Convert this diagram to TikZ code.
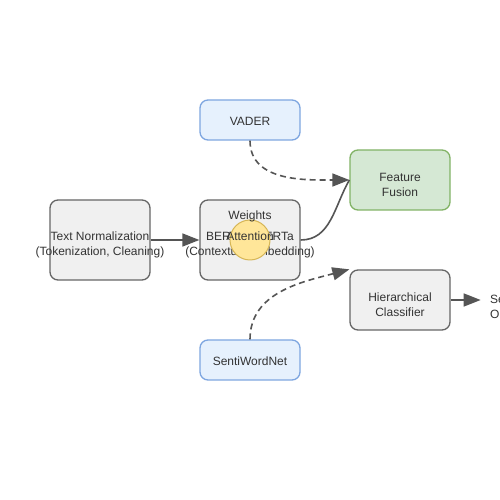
\documentclass[tikz,border=0pt]{standalone}
\usepackage{fontspec}
\setmainfont{Liberation Sans}
\usetikzlibrary{arrows.meta,positioning}

\definecolor{txt}{HTML}{333333}
\definecolor{edgecol}{HTML}{555555}
\definecolor{procfill}{HTML}{F0F0F0}
\definecolor{procline}{HTML}{666666}
\definecolor{lexfill}{HTML}{E6F1FD}
\definecolor{lexline}{HTML}{7EA6E0}
\definecolor{fusefill}{HTML}{D5E8D4}
\definecolor{fuseline}{HTML}{82B366}
\definecolor{attnfill}{HTML}{FFE699}
\definecolor{attnline}{HTML}{D6B656}

\begin{document}
\begin{tikzpicture}[x=1pt,y=1pt,on grid,>={Triangle[length=17pt,width=13pt]}]
	\tikzstyle{every node}=[font=\fontsize{12}{15}\selectfont,text=txt]
	\tikzstyle{procbox}=[draw=procline,fill=procfill,line width=1.3pt,rounded corners=8pt,minimum width=100pt,minimum height=80pt]
	\tikzstyle{lexbox}=[draw=lexline,fill=lexfill,line width=1.3pt,rounded corners=8pt,minimum width=100pt,minimum height=40pt,text height=13pt,text depth=1pt]
	\tikzstyle{fusebox}=[draw=fuseline,fill=fusefill,line width=1.3pt,rounded corners=8pt,minimum width=100pt,minimum height=60pt]
	\tikzstyle{boxtext}=[align=center,yshift=-5pt]
	\tikzstyle{lexlink}=[dash pattern=on 6pt off 4pt]

	\useasboundingbox (0,0) rectangle (500,500);
	\clip (0,0) rectangle (500,500);
	\fill[white] (0,0) rectangle (500,500);

	\node[procbox] (tnorm) at (100,260) {};
	\node[boxtext] (tnorm-text) at (tnorm) {Text Normalization\\(Tokenization, Cleaning)};
	\node[procbox] (berta) [right=150pt of tnorm] {};
	\node[boxtext] (berta-text) at (berta) {BERT/RoBERTa\\(Contextual Embedding)};
	\node[circle,draw=attnline,fill=attnfill,line width=1pt,minimum size=40pt,inner sep=0pt] (attn) at (berta) {};
	\node (attn-text) [above=4pt of berta] {Attention};
	\node (weights) [above=24pt of berta] {Weights};

	\node[lexbox] (vader) [above=120pt of berta] {VADER};
	\node[lexbox] (senti) [below=120pt of berta] {SentiWordNet};
	\node[fusebox] (fusion) at (400,320) {};
	\node[boxtext] (fusion-text) at (fusion) {Feature\\Fusion};
	\node[procbox,minimum height=60pt] (classifier) at (400,200) {};
	\node[boxtext] (classifier-text) at (classifier) {Hierarchical\\Classifier};
	\coordinate[right=30pt of classifier.east] (result);
	\node[anchor=west,align=left] (result-text) at (486.5,192) {Sentiment\\Output};

	\path[->,color=edgecol,line width=1.6pt]
	% preprocessing
	(tnorm) edge[] (berta)
	% lexicons
	(vader.south) edge[lexlink,out=-90,in=180] (fusion.west)
	(senti.north) edge[lexlink,out=90,in=195] (classifier.north west)
	% embedding
	(berta.east) edge[-,out=0,in=-120] (fusion.west)
	% output
	(classifier) edge[] (result)
	;
\end{tikzpicture}
\end{document}
